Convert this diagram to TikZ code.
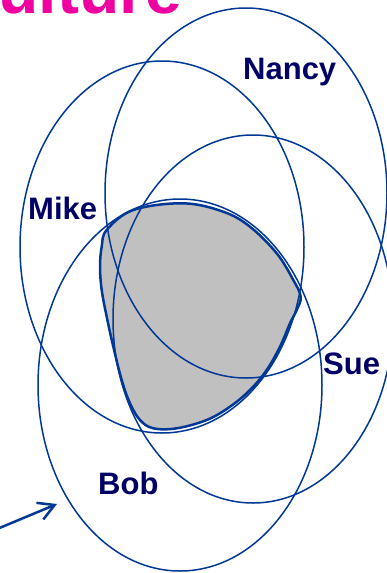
\documentclass[tikz,border=0pt]{standalone}
\usepackage{fontspec}
\setmainfont{Liberation Sans}
\usetikzlibrary{arrows.meta}
\definecolor{venblue}{RGB}{0,56,150}
\definecolor{labnavy}{RGB}{0,0,102}
\definecolor{titlemag}{RGB}{240,0,160}
\definecolor{blobgrey}{RGB}{192,192,192}
\tikzset{
  ring/.style={draw=venblue, line width=1.5pt},
  lab/.style={text=labnavy, font=\fontsize{31}{31}\selectfont\bfseries, inner sep=0pt, anchor=base west},
}
\begin{document}
\begin{tikzpicture}[x=1pt,y=-1pt]
\useasboundingbox (0,0) rectangle (387,573);
\clip (0,0) rectangle (387,573);
\fill[white] (0,0) rectangle (387,573);
% title
\node[text=titlemag, font=\fontsize{66}{66}\selectfont\bfseries, inner sep=0pt, anchor=base east] (title) at (182,13.5) {Culture};
% grey region
\draw[fill=blobgrey, draw=venblue, line width=2.5pt] plot[smooth cycle, tension=0.6] coordinates {
(106.7,230) (133.3,210) (183.3,203.3) (223.3,211.7) (250,226.7) (276.7,253.3)
(293.3,280) (300.7,296.7) (296.7,310) (290,323.3) (280,346.7) (266.7,370)
(250,390) (230,406.7) (206.7,420) (176.7,428.3) (153.3,428.3) (140,420)
(130,403.3) (121.7,380) (113.3,346.7) (106.7,316.7) (101.7,290) (100,266.7)
(101.7,246.7)};
% ellipses
\draw[ring] (162,247) ellipse [x radius=142, y radius=186];
\draw[ring] (246,193) ellipse [x radius=141, y radius=185];
\draw[ring] (253,319) ellipse [x radius=140, y radius=184];
\draw[ring] (180,385) ellipse [x radius=142, y radius=186];
% labels
\node[lab] (nancy) at (243,79) {Nancy};
\node[lab] (mike) at (28,219) {Mike};
\node[lab] (sue) at (323,374) {Sue};
\node[lab] (bob) at (98,494) {Bob};
% arrow
\coordinate (arrstart) at (-3,529);
\coordinate (arrtip) at (57,504);
\draw[venblue, line width=2.5pt, -{Straight Barb[length=16pt,width=18pt]}] (arrstart) -- (arrtip);
\end{tikzpicture}
\end{document}
